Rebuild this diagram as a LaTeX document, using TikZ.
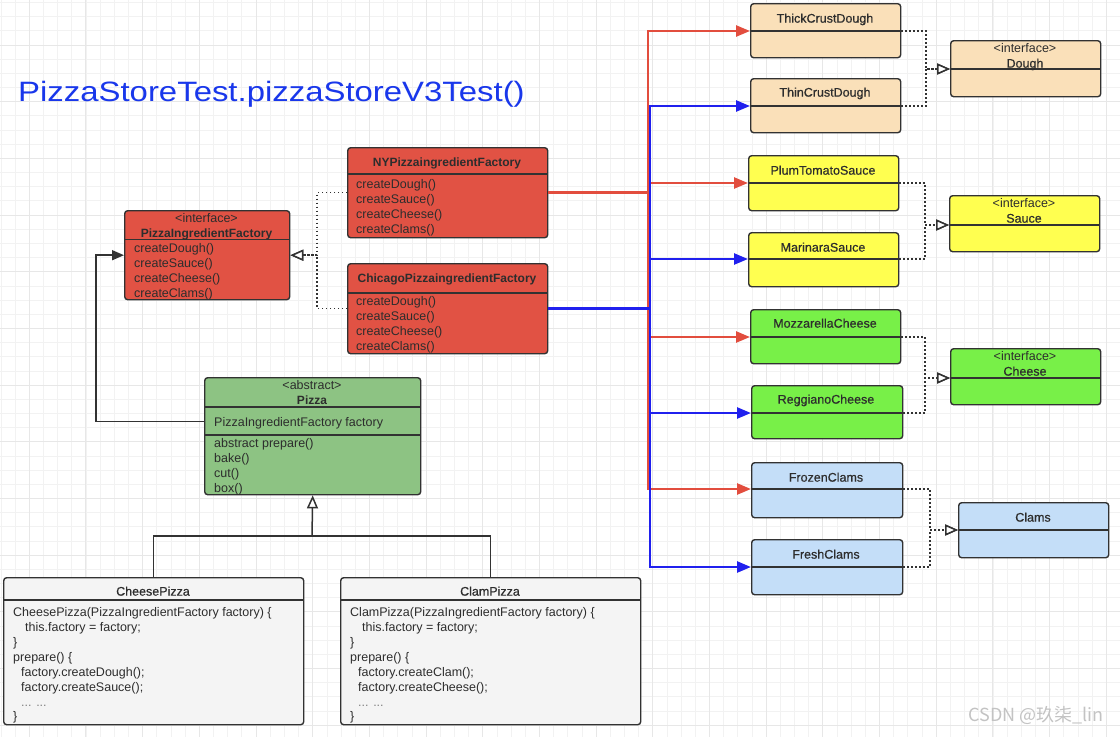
\documentclass[tikz,border=0pt]{standalone}
\usepackage{fontspec}
\setmainfont{Liberation Sans}
\newfontfamily\medfont[FakeBold=0.6]{Liberation Sans}
\newfontfamily\cjkfont{Noto Sans CJK SC}
\usetikzlibrary{arrows.meta,calc}
\definecolor{bordc}{RGB}{50,50,50}
\definecolor{txtc}{RGB}{45,45,45}
\definecolor{facred}{RGB}{225,82,68}
\definecolor{pizzag}{RGB}{141,195,131}
\definecolor{codeg}{RGB}{244,244,244}
\definecolor{peach}{RGB}{250,224,185}
\definecolor{yel}{RGB}{255,255,80}
\definecolor{chg}{RGB}{120,240,72}
\definecolor{clb}{RGB}{196,222,248}
\definecolor{arrred}{RGB}{226,77,62}
\definecolor{arrblue}{RGB}{32,32,238}
\definecolor{titleb}{RGB}{25,55,235}
\definecolor{gridmin}{RGB}{242,242,242}
\definecolor{gridmaj}{RGB}{231,231,231}
\definecolor{wmc}{RGB}{195,195,195}
\newcommand\umlbox[7]{%
  \node[ubx, fill=#7, minimum width=#4pt, minimum height=#5pt, anchor=north west] (#1) at (#2,#3) {};
  \coordinate (#1-sl) at ([yshift=-#6pt]#1.north west);
  \coordinate (#1-sr) at ([yshift=-#6pt]#1.north east);
  \draw[sepl] (#1-sl) -- (#1-sr);
}
\begin{document}
\begin{tikzpicture}[x=1pt,y=-1pt,
  ubx/.style={draw=bordc, line width=1.4pt, rounded corners=3pt, inner sep=0pt},
  sepl/.style={draw=bordc, line width=1.4pt},
  tx/.style={font=\fontsize{12.5}{15}\selectfont, text=txtc, inner sep=0pt, yshift=-2pt},
  tm/.style={font=\medfont\fontsize{12.5}{15}\selectfont, text=txtc, inner sep=0pt, yshift=-2pt},
  tb/.style={font=\fontsize{12}{15}\selectfont\bfseries, text=txtc, inner sep=0pt, yshift=-2pt},
  redc/.style={draw=arrred, line width=2.5pt, -{Triangle[length=14pt,width=11pt]}},
  bluec/.style={draw=arrblue, line width=2.5pt, -{Triangle[length=14pt,width=11pt]}},
  dotc/.style={draw=bordc, line width=1.5pt, dash pattern=on 1.5pt off 2.5pt, -{Triangle[open,length=13pt,width=11pt,fill=white]}},
  solc/.style={draw=bordc, line width=1.5pt}
]
\useasboundingbox (0,0) rectangle (1120,737);
\fill[white] (0,0) rectangle (1120,737);
% grid
\foreach \i in {0,...,79} \draw[gridmin, line width=0.8pt] (1+\i*14.17,0) -- (1+\i*14.17,737);
\foreach \i in {0,...,52} \draw[gridmin, line width=0.8pt] (0,2.5+\i*14.17) -- (1120,2.5+\i*14.17);
\foreach \i in {0,...,19} \draw[gridmaj, line width=1pt] (29.3+\i*56.68,0) -- (29.3+\i*56.68,737);
\foreach \i in {0,...,12} \draw[gridmaj, line width=1pt] (0,45+\i*56.68) -- (1120,45+\i*56.68);

% title
\node[font=\fontsize{28}{30}\selectfont, text=titleb, inner sep=0pt, anchor=west] (title) at (18,94) {\scalebox{1.175}[1]{PizzaStoreTest.pizzaStoreV3Test()}};

% factory boxes
\umlbox{pif}{124}{210}{165}{89}{29.5}{facred}
\node[tx, anchor=mid] (pif-s) at (206.5,218) {<interface>};
\node[tb, anchor=mid] (pif-t) at (206.5,233) {PizzaIngredientFactory};
\foreach \t [count=\i] in {createDough(),createSauce(),createCheese(),createClams()}
  \node[tx, anchor=mid west] (pif-i\i) at (134,233+15*\i) {\t};

\umlbox{ny}{347}{147}{200}{90}{27}{facred}
\node[tb, anchor=mid] (ny-t) at (447,162) {NYPizzaingredientFactory};
\foreach \t [count=\i] in {createDough(),createSauce(),createCheese(),createClams()}
  \node[tx, anchor=mid west] (ny-i\i) at (356,169+15*\i) {\t};

\umlbox{chi}{347}{263}{200}{90}{30}{facred}
\node[tb, anchor=mid] (chi-t) at (447,278) {ChicagoPizzaingredientFactory};
\foreach \t [count=\i] in {createDough(),createSauce(),createCheese(),createClams()}
  \node[tx, anchor=mid west] (chi-i\i) at (356,286+15*\i) {\t};

% Pizza
\umlbox{pizza}{204}{377}{216}{117}{30}{pizzag}
\draw[sepl] ([yshift=-58pt]pizza.north west) -- ([yshift=-58pt]pizza.north east);
\node[tx, anchor=mid] (pizza-s) at (312,385) {<abstract>};
\node[tb, anchor=mid] (pizza-t) at (312,400) {Pizza};
\node[tx, anchor=mid west] (pizza-f) at (214,422) {PizzaIngredientFactory factory};
\foreach \t [count=\i] in {abstract prepare(),bake(),cut(),box()}
  \node[tx, anchor=mid west] (pizza-i\i) at (214,428+15*\i) {\t};

% Cheese / Clam pizza
\umlbox{cheese}{3}{577}{300}{147}{23}{codeg}
\node[tm, anchor=mid] (cheese-t) at (153,591) {CheesePizza};
\node[tx, anchor=mid west] (cp1) at (13,612) {CheesePizza(PizzaIngredientFactory factory) \{};
\node[tx, anchor=mid west] (cp2) at (25,627) {this.factory = factory;};
\node[tx, anchor=mid west] (cp3) at (13,642) {\}};
\node[tx, anchor=mid west] (cp4) at (13,657) {prepare() \{};
\node[tx, anchor=mid west] (cp5) at (21,672) {factory.createDough();};
\node[tx, anchor=mid west] (cp6) at (21,687) {factory.createSauce();};
\node[tx, anchor=mid west, text=gray] (cp7) at (21,702) {... ...};
\node[tx, anchor=mid west] (cp8) at (13,716) {\}};

\umlbox{clam}{340}{577}{300}{147}{23}{codeg}
\node[tm, anchor=mid] (clam-t) at (490,591) {ClamPizza};
\node[tx, anchor=mid west] (kp1) at (350,612) {ClamPizza(PizzaIngredientFactory factory) \{};
\node[tx, anchor=mid west] (kp2) at (362,627) {this.factory = factory;};
\node[tx, anchor=mid west] (kp3) at (350,642) {\}};
\node[tx, anchor=mid west] (kp4) at (350,657) {prepare() \{};
\node[tx, anchor=mid west] (kp5) at (358,672) {factory.createClam();};
\node[tx, anchor=mid west] (kp6) at (358,687) {factory.createCheese();};
\node[tx, anchor=mid west, text=gray] (kp7) at (358,702) {... ...};
\node[tx, anchor=mid west] (kp8) at (350,716) {\}};

% ingredient boxes
\umlbox{thick}{750}{3}{150}{54}{28}{peach}
\node[tm, anchor=mid] (thick-t) at (825,18) {ThickCrustDough};
\umlbox{thin}{750}{78}{150}{54}{28}{peach}
\node[tm, anchor=mid] (thin-t) at (825,92) {ThinCrustDough};
\umlbox{dough}{950}{40}{150}{56}{29}{peach}
\node[tx, anchor=mid] (dough-s) at (1025,48) {<interface>};
\node[tm, anchor=mid] (dough-t) at (1025,63) {Dough};

\umlbox{plum}{748}{155}{150}{55}{28}{yel}
\node[tm, anchor=mid] (plum-t) at (823,170) {PlumTomatoSauce};
\umlbox{marinara}{748}{232}{150}{54}{27}{yel}
\node[tm, anchor=mid] (marinara-t) at (823,247) {MarinaraSauce};
\umlbox{sauce}{949}{195}{150}{56}{30}{yel}
\node[tx, anchor=mid] (sauce-s) at (1024,203) {<interface>};
\node[tm, anchor=mid] (sauce-t) at (1024,218) {Sauce};

\umlbox{mozz}{750}{309}{150}{54}{28}{chg}
\node[tm, anchor=mid] (mozz-t) at (825,323) {MozzarellaCheese};
\umlbox{regg}{751}{385}{151}{53}{28}{chg}
\node[tm, anchor=mid] (regg-t) at (826,399) {ReggianoCheese};
\umlbox{cheesei}{950}{348}{150}{56}{30}{chg}
\node[tx, anchor=mid] (cheesei-s) at (1025,356) {<interface>};
\node[tm, anchor=mid] (cheesei-t) at (1025,371) {Cheese};

\umlbox{frozen}{751}{462}{151}{55}{27}{clb}
\node[tm, anchor=mid] (frozen-t) at (826,477) {FrozenClams};
\umlbox{fresh}{751}{539}{151}{55}{28}{clb}
\node[tm, anchor=mid] (fresh-t) at (826,554) {FreshClams};
\umlbox{clams}{958}{502}{150}{55}{28}{clb}
\node[tm, anchor=mid] (clams-t) at (1033,517) {Clams};

% coordinates for routing
\coordinate (rx) at (648,0);
\coordinate (bx) at (650,0);
\coordinate (fx) at (317,0);
\coordinate (lx) at (96,0);
\coordinate (dx1) at (926,0);
\coordinate (dx2) at (925,0);
\coordinate (dx3) at (925,0);
\coordinate (dx4) at (930,0);
\coordinate (jn) at (312,536);
\coordinate (pz-a) at ([yshift=-44.5pt]pizza.north west);

% red and blue connectors
\foreach \t in {thick,plum,mozz,frozen}
  \draw[redc] (ny.east) -| (rx |- \t-sl) -- (\t-sl);
\foreach \t in {thin,marinara,regg,fresh}
  \draw[bluec] (chi.east) -| (bx |- \t-sl) -- (\t-sl);

% realization (dotted)
\draw[dotc] (thick-sr) -| (dx1 |- dough-sl) -- (dough-sl);
\draw[dotc] (thin-sr) -| (dx1 |- dough-sl) -- (dough-sl);
\draw[dotc] (plum-sr) -| (dx2 |- sauce-sl) -- (sauce-sl);
\draw[dotc] (marinara-sr) -| (dx2 |- sauce-sl) -- (sauce-sl);
\draw[dotc] (mozz-sr) -| (dx3 |- cheesei-sl) -- (cheesei-sl);
\draw[dotc] (regg-sr) -| (dx3 |- cheesei-sl) -- (cheesei-sl);
\draw[dotc] (frozen-sr) -| (dx4 |- clams-sl) -- (clams-sl);
\draw[dotc] (fresh-sr) -| (dx4 |- clams-sl) -- (clams-sl);
\draw[dotc] (ny.west) -| (fx |- pif.east) -- (pif.east);
\draw[dotc] (chi.west) -| (fx |- pif.east) -- (pif.east);

% association Pizza -> PizzaIngredientFactory
\draw[solc, -{Triangle[length=12pt,width=10pt]}] (pz-a) -| (lx |- pif.west) -- (pif.west);

% inheritance
\draw[solc] (cheese.north) |- (jn) -| (clam.north);
\draw[solc, -{Triangle[open,length=13pt,width=11pt,fill=white]}] (jn) -- (pizza.south);

% watermark
\node[font=\cjkfont\fontsize{18}{18}\selectfont, text=wmc, inner sep=0pt, anchor=mid] (wm) at (1036,719) {CSDN @玖柒\_lin};
\end{tikzpicture}
\end{document}
